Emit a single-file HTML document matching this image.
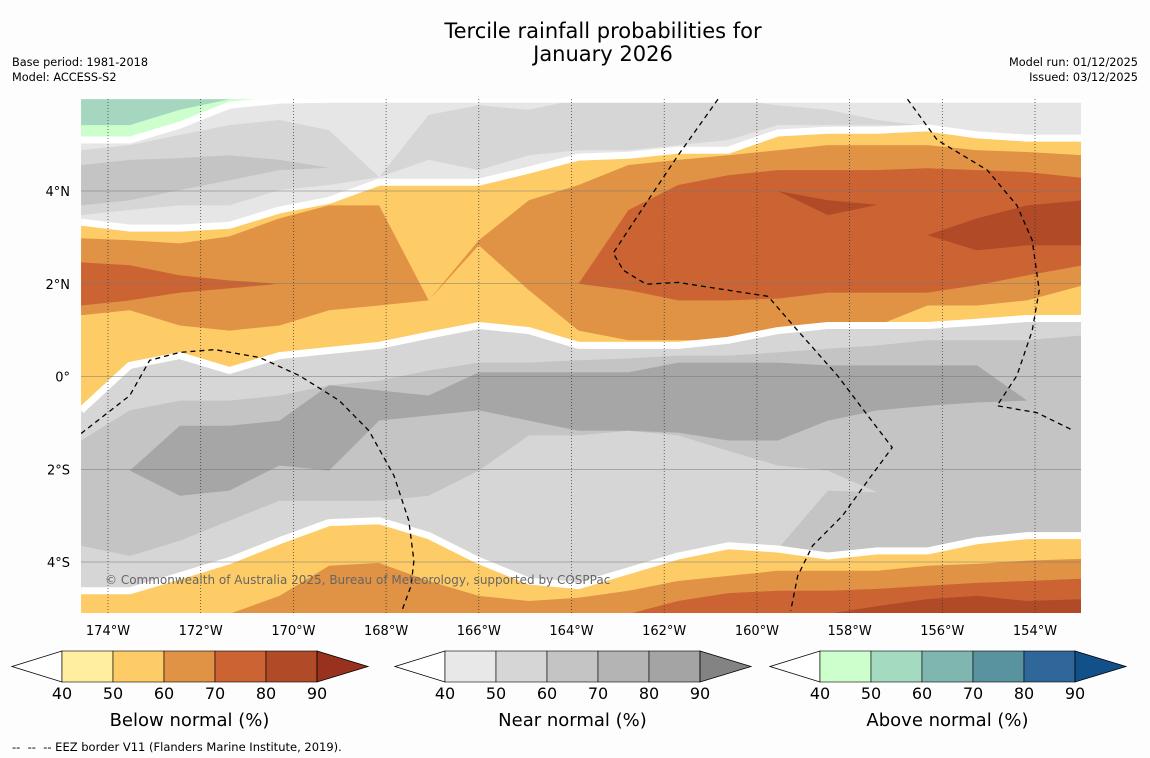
<!DOCTYPE html>
<html><head><meta charset="utf-8"><style>
body{margin:0;background:#fdfdfd;width:1150px;height:758px;overflow:hidden;font-family:"DejaVu Sans","Liberation Sans",sans-serif}
svg{display:block}
</style></head><body>
<svg id="s" width="1150" height="758" viewBox="0 0 1150 758">
<text x="603" y="38" text-anchor="middle" font-size="21">Tercile rainfall probabilities for</text>
<text x="603" y="61" text-anchor="middle" font-size="21">January 2026</text>
<text x="12" y="66" font-size="11.3">Base period: 1981-2018</text>
<text x="12" y="81" font-size="11.3">Model: ACCESS-S2</text>
<text x="1138" y="66" text-anchor="end" font-size="11.3">Model run: 01/12/2025</text>
<text x="1138" y="81" text-anchor="end" font-size="11.3">Issued: 03/12/2025</text>
<defs><clipPath id="mc"><rect x="81" y="99" width="1000" height="514"/></clipPath></defs>
<g id="map" clip-path="url(#mc)"></g>
<g id="ov"></g>
<g id="cb"></g>
<text x="12" y="751" font-size="11.5" xml:space="preserve">--  --  -- EEZ border V11 (Flanders Marine Institute, 2019).</text>
</svg>
<script>
// Longitude grid (degrees east, negative = W)
const lons=[-174.58,-173.53,-172.45,-171.38,-170.30,-169.23,-168.15,-167.08,-166.00,-164.92,-163.85,-162.77,-161.70,-160.62,-159.55,-158.47,-157.40,-156.32,-155.25,-154.17,-152.95];
const TOP=5.98, BOT=-5.12;
const topEdge=lons.map(()=>TOP), botEdge=lons.map(()=>BOT);
// contour boundaries (latitudes)
const greenLightLo=[5.10,5.10,5.42,5.85,5.96,5.98,5.98,5.98,5.98,5.98,5.98,5.98,5.98,5.98,5.98,5.98,5.98,5.98,5.98,5.98,5.98];
const greenDarkLo=[5.42,5.42,5.75,5.98,5.98,5.98,5.98,5.98,5.98,5.98,5.98,5.98,5.98,5.98,5.98,5.98,5.98,5.98,5.98,5.98,5.98];
const nearTopHi=[4.88,4.99,5.21,5.42,5.53,5.31,4.3,5.64,5.85,5.75,5.98,5.98,5.98,5.98,5.85,5.75,5.53,5.4,5.4,5.4,5.4];
const nearTopLo=[3.48,3.59,3.69,3.69,4.02,4.13,4.3,4.67,4.45,4.77,4.88,4.88,4.99,5.10,5.42,5.42,5.42,5.4,5.4,5.4,5.4];
const nearTop2Hi=[4.56,4.67,4.71,4.77,4.67,4.5,4.5,4.5,4.5,4.5,4.5,4.5,4.5,4.5,4.5,4.5,4.5,4.5,4.5,4.5,4.5];
const nearTop2Lo=[3.69,3.80,4.02,4.23,4.45,4.5,4.5,4.5,4.5,4.5,4.5,4.5,4.5,4.5,4.5,4.5,4.5,4.5,4.5,4.5,4.5];
const belowN1=[3.33,3.20,3.20,3.26,3.59,3.80,4.19,4.19,4.19,4.45,4.73,4.77,4.88,4.88,5.25,5.31,5.31,5.36,5.21,5.14,5.14];
const below60Hi=[2.98,2.94,2.87,3.02,3.41,3.69,3.69,1.64,2.94,3.80,4.13,4.56,4.67,4.77,4.88,4.99,4.99,4.99,4.88,4.84,4.77];
const below60Lo=[1.32,1.43,1.10,0.99,1.10,1.43,1.53,1.64,2.83,1.86,0.99,0.78,0.78,0.78,0.89,1.10,1.10,1.53,1.53,1.64,1.97];
const below70Hi=[2.46,2.40,2.18,2.07,2.0,2.0,2.0,2.0,2.0,2.0,2.0,3.59,4.13,4.34,4.45,4.45,4.45,4.49,4.45,4.41,4.28];
const below70Lo=[1.53,1.64,1.81,1.90,2.0,2.0,2.0,2.0,2.0,2.0,2.0,1.86,1.64,1.64,1.68,1.81,1.81,1.81,1.97,2.18,2.40];
const below80Hi=[2.2,2.2,2.2,2.2,2.2,2.2,2.2,2.2,2.2,2.2,2.2,2.2,2.2,4.0,4.0,3.80,3.7,3.05,3.41,3.69,3.80];
const below80Lo=[2.2,2.2,2.2,2.2,2.2,2.2,2.2,2.2,2.2,2.2,2.2,2.2,2.2,4.0,4.0,3.48,3.7,3.05,2.72,2.83,2.83];
const belowS1=[-0.73,0.24,0.45,0.13,0.45,0.56,0.67,0.89,1.10,0.99,0.67,0.67,0.67,0.78,0.99,1.10,1.10,1.10,1.17,1.25,1.25];
const near60Hi=[-1.38,-0.73,-0.52,-0.52,-0.41,-0.19,-0.09,0.13,0.30,0.30,0.35,0.39,0.45,0.45,0.52,0.60,0.67,0.78,0.78,0.78,0.89];
const near80Hi=[-1.4,-2.03,-1.06,-1.06,-0.95,-0.19,-0.30,-0.41,0.09,0.09,0.09,0.09,0.30,0.30,0.30,0.24,0.24,0.24,0.24,-0.52,-0.52];
const near80Lo=[-1.4,-2.03,-2.57,-2.46,-1.92,-2.03,-0.95,-0.84,-0.73,-0.95,-1.17,-1.17,-1.21,-1.38,-1.38,-0.95,-0.73,-0.63,-0.56,-0.52,-0.52];
const near50Hi=[-3.65,-3.87,-3.54,-3.11,-2.68,-2.68,-2.68,-2.57,-2.03,-1.27,-1.27,-1.17,-1.27,-1.60,-1.92,-2.03,-2.5,-2.5,-2.5,-2.5,-2.5];
const near50Lo=[-4.62,-4.62,-4.30,-3.97,-3.54,-3.15,-3.11,-3.43,-3.97,-4.41,-4.51,-4.19,-3.87,-3.65,-3.72,-2.46,-2.5,-2.5,-2.5,-2.5,-2.5];
const belowS4=[-4.62,-4.62,-4.30,-3.97,-3.54,-3.15,-3.11,-3.43,-3.97,-4.41,-4.51,-4.19,-3.87,-3.65,-3.72,-3.87,-3.76,-3.76,-3.54,-3.43,-3.43];
const south60Hi=[-5.12,-5.12,-5.12,-5.12,-4.73,-4.08,-4.02,-4.41,-4.73,-4.84,-4.77,-4.62,-4.41,-4.30,-4.19,-4.19,-4.19,-4.08,-4.04,-3.97,-3.93];
const south70Hi=[-5.12,-5.12,-5.12,-5.12,-5.12,-5.12,-5.12,-5.12,-5.12,-5.12,-5.12,-5.12,-4.84,-4.67,-4.62,-4.62,-4.58,-4.51,-4.45,-4.41,-4.36];
const south80Hi=[-5.12,-5.12,-5.12,-5.12,-5.12,-5.12,-5.12,-5.12,-5.12,-5.12,-5.12,-5.12,-5.12,-5.12,-5.12,-5.12,-4.95,-4.80,-4.73,-4.84,-4.80];
// EEZ borders
const eez1Lon=[-174.58,-173.53,-173.10,-172.45,-171.70,-170.73,-169.87,-169.01,-168.37,-167.83,-167.51,-167.40,-167.46,-167.66];
const eez1Lat=[-1.23,-0.41,0.35,0.52,0.58,0.41,0.02,-0.52,-1.17,-2.14,-3.11,-3.97,-4.51,-5.05];
const eez2Lon=[-160.84,-161.70,-162.56,-163.10,-162.88,-162.39,-161.70,-160.62,-159.76,-159.12,-158.26,-157.61,-157.08,-157.61,-158.15,-158.80,-159.12,-159.27];
const eez2Lat=[5.98,4.77,3.48,2.66,2.29,1.99,2.03,1.86,1.73,0.99,0.02,-0.84,-1.53,-2.25,-3.00,-3.65,-4.30,-5.05];
const eez3Lon=[-156.75,-156.11,-155.03,-154.39,-154.06,-153.91,-154.06,-154.39,-154.82,-153.96,-153.16];
const eez3Lat=[5.98,5.10,4.45,3.69,2.94,1.86,0.99,0.02,-0.63,-0.78,-1.17];
const lonTicks=[-174,-172,-170,-168,-166,-164,-162,-160,-158,-156,-154];
const latTicks=[4,2,0,-2,-4];
const cbTicks=["40","50","60","70","80","90"];
const cbBelow=["#ffeda0","#fecc66","#e09245","#cc6333","#b04a27","#98321f"];
const cbNear=["#e8e8e8","#d6d6d6","#c4c4c4","#b4b4b4","#a4a4a4","#838383"];
const cbAbove=["#ccffcc","#a4dac0","#80b6b0","#5a93a0","#30679a","#12508a"];

const NS="http://www.w3.org/2000/svg";
const X=lon=>108+(lon+174)*46.35;
const Y=lat=>376.5-lat*46.375;
function mk(tag,attrs,parent){const e=document.createElementNS(NS,tag);for(const k in attrs)e.setAttribute(k,attrs[k]);parent.appendChild(e);return e;}
const map=document.getElementById('map'),ov=document.getElementById('ov'),cb=document.getElementById('cb');
function pts(lo,la){return lo.map((l,i)=>X(l).toFixed(1)+','+Y(la[i]).toFixed(1));}
function band(hi,lo,color,name){
  const p=pts(lons,hi).concat(pts(lons,lo).reverse());
  const e=mk('polygon',{points:p.join(' '),fill:color},map);
  
  
}
function line(la,name){
  const e=mk('polyline',{points:pts(lons,la).join(' '),fill:'none',stroke:'#fff','stroke-width':7,'stroke-linejoin':'round'},map);
  
  
}
band(topEdge,botEdge,'#e6e6e6','near-normal-40-background');
band(topEdge,greenLightLo,'#ccffcc','above-normal-50-region');
band(topEdge,greenDarkLo,'#a4d6c0','above-normal-60-region');
band(nearTopHi,nearTopLo,'#d6d6d6','near-normal-50-north');
band(nearTop2Hi,nearTop2Lo,'#c4c4c4','near-normal-60-north');
band(belowN1,belowS1,'#fecc66','below-normal-50-band');
band(below60Hi,below60Lo,'#e09245','below-normal-60-band');
band(below70Hi,below70Lo,'#cc6333','below-normal-70-band');
band(below80Hi,below80Lo,'#b04a27','below-normal-80-band');
band(belowS1,belowS4,'#d6d6d6','near-normal-50-band');
band(near60Hi,belowS4,'#c4c4c4','near-normal-60-band');
band(near80Hi,near80Lo,'#a6a6a6','near-normal-80-band');
band(near50Hi,near50Lo,'#d6d6d6','near-normal-50-south');
band(belowS4,botEdge,'#fecc66','below-normal-50-south');
band(south60Hi,botEdge,'#e09245','below-normal-60-south');
band(south70Hi,botEdge,'#cc6333','below-normal-70-south');
band(south80Hi,botEdge,'#b04a27','below-normal-80-south');
line(greenLightLo,'above-boundary-line');
line(belowN1,'tercile-boundary-north');
line(belowS1,'tercile-boundary-middle');
line(belowS4,'tercile-boundary-south');
// gridlines
latTicks.forEach(t=>{
  const g=mk('line',{x1:81,x2:1081,y1:Y(t),y2:Y(t),stroke:'#777','stroke-width':0.6},map);
  
  
  const l=mk('text',{x:70,y:Y(t)+5,'text-anchor':'end','font-size':13},ov);
  l.textContent=(t===0?'0°':Math.abs(t)+'°'+(t>0?'N':'S'));
  
  
});
lonTicks.forEach(t=>{
  const g=mk('line',{x1:X(t),x2:X(t),y1:99,y2:613,stroke:'#333','stroke-width':0.7,'stroke-dasharray':'1,2'},map);
  
  
  const l=mk('text',{x:X(t),y:635,'text-anchor':'middle','font-size':13},ov);
  l.textContent=Math.abs(t)+'°W';
  
  
});
[[eez1Lon,eez1Lat],[eez2Lon,eez2Lat],[eez3Lon,eez3Lat]].forEach(([lo,la])=>{
  const e=mk('polyline',{points:pts(lo,la).join(' '),fill:'none',stroke:'#000','stroke-width':1.3,'stroke-dasharray':'5,4'},map);
  
  
});
const cr=mk('text',{x:105,y:584,'font-size':12,fill:'#666'},map);
cr.textContent='© Commonwealth of Australia 2025, Bureau of Meteorology, supported by COSPPac';


// colorbars
function colorbar(x0,cols,title,name){
  const g=mk('g',{},cb);
  
  
  const w=51,y0=651,h=31;
  mk('polygon',{points:`${x0},${y0+h/2} ${x0+50},${y0} ${x0+50},${y0+h}`,fill:'#fff',stroke:'#000','stroke-width':0.8},g);
  for(let i=0;i<5;i++){
    const r=mk('rect',{x:x0+50+i*w,y:y0,width:w,height:h,fill:cols[i],stroke:'#000','stroke-width':0.6},g);
    
    
  }
  const xe=x0+50+5*w;
  mk('polygon',{points:`${xe},${y0} ${xe+51},${y0+h/2} ${xe},${y0+h}`,fill:cols[5],stroke:'#000','stroke-width':0.8},g);
  cbTicks.forEach((t,i)=>{
    const l=mk('text',{x:x0+50+i*w,y:699,'text-anchor':'middle','font-size':16},g);
    l.textContent=t;
    
    
  });
  const tt=mk('text',{x:x0+50+2.5*w,y:726,'text-anchor':'middle','font-size':18},g);
  tt.textContent=title;
  
  
}
colorbar(12,cbBelow,'Below normal (%)','below-normal-colorbar');
colorbar(395,cbNear,'Near normal (%)','near-normal-colorbar');
colorbar(770,cbAbove,'Above normal (%)','above-normal-colorbar');
</script>
</body></html>
